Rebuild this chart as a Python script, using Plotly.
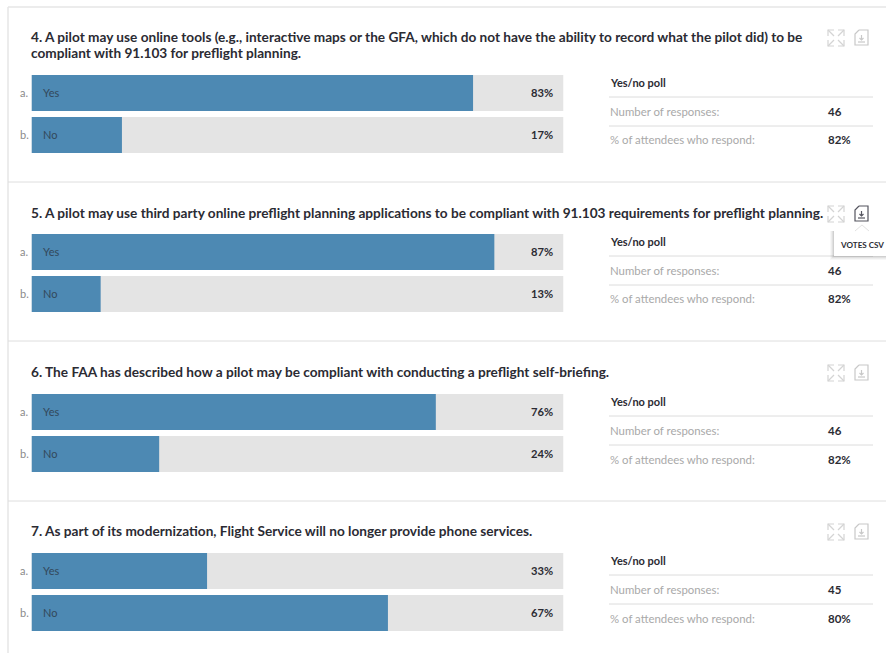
import plotly.graph_objects as go

W, H = 886, 653

# Poll results
questions = [
    ["4. A pilot may use online tools (e.g., interactive maps or the GFA, which do not have the ability to record what the pilot did) to be",
     "compliant with 91.103 for preflight planning."],
    ["5. A pilot may use third party online preflight planning applications to be compliant with 91.103 requirements for preflight planning."],
    ["6. The FAA has described how a pilot may be compliant with conducting a preflight self-briefing."],
    ["7. As part of its modernization, Flight Service will no longer provide phone services."],
]
choices = ["Yes", "No"]
choice_letters = ["a.", "b."]
yes_pct = [83, 87, 76, 33]
no_pct = [17, 13, 24, 67]
responses = [46, 46, 46, 45]
attendee_pct = [82, 82, 82, 80]

# Vertical layout of each card, in pixels from the top of the page
bar_tops = [72, 231, 391, 550]
title_ys = [37, 213, 372, 531]
stat_ys = [83, 242, 402, 561]
separators = [182, 341, 501]
BAR_BLOCK = 84
BAR_LEFT, BAR_RIGHT = 31.5, 563.5

BLUE = "#4d89b3"
TRACK = "#e4e4e4"
DARK = "#2b2b33"
GREY = "#a9a9a9"
RULE = "#dcdcdc"
FONT = "Lato"


def px(x):
    return x / W


def py(y):
    return 1 - y / H


fig = go.Figure()
annotations, shapes = [], []


def label(x, y, text, size=11, color=DARK, bold=False, anchor="left"):
    annotations.append(dict(
        x=px(x), y=py(y), xref="paper", yref="paper", xanchor=anchor, yanchor="middle",
        text=f"<b>{text}</b>" if bold else text, showarrow=False,
        font=dict(family=FONT, size=size, color=color), borderpad=0, borderwidth=0,
    ))


def rule(x0, y0, x1, y1, color=RULE, width=1):
    shapes.append(dict(type="line", xref="paper", yref="paper",
                       x0=px(x0), x1=px(x1), y0=py(y0), y1=py(y1),
                       line=dict(color=color, width=width)))


def icon_path(d_points, color, width=1.2):
    d = "M " + " L ".join(f"{px(x):.5f},{py(y):.5f}" for x, y in d_points)
    shapes.append(dict(type="path", xref="paper", yref="paper", path=d,
                       line=dict(color=color, width=width)))


def expand_icon(x, y, color):
    s = 16
    for cx, cy, dx, dy in [(x, y, 1, 1), (x + s, y, -1, 1), (x, y + s, 1, -1), (x + s, y + s, -1, -1)]:
        icon_path([(cx + dx * 6, cy), (cx, cy), (cx, cy + dy * 6)], color)
        icon_path([(cx, cy), (cx + dx * 6, cy + dy * 6)], color)


def doc_icon(x, y, color):
    icon_path([(x + 4, y), (x + 13, y), (x + 13, y + 15), (x, y + 15), (x, y + 4), (x + 4, y)], color)
    icon_path([(x + 6.5, y + 5), (x + 6.5, y + 10)], color)
    icon_path([(x + 4.5, y + 8), (x + 6.5, y + 10), (x + 8.5, y + 8)], color)
    icon_path([(x + 3, y + 12), (x + 10, y + 12)], color)


for i in range(4):
    n = "" if i == 0 else str(i + 1)
    top = bar_tops[i]
    xa, ya = f"x{n}", f"y{n}"
    values = [yes_pct[i], no_pct[i]]
    fig.add_trace(go.Bar(y=choices, x=[100, 100], orientation="h", marker=dict(color=TRACK, line_width=0),
                         xaxis=xa, yaxis=ya, hoverinfo="skip", showlegend=False))
    fig.add_trace(go.Bar(y=choices, x=values, orientation="h", marker=dict(color=BLUE, line_width=0),
                         xaxis=xa, yaxis=ya, showlegend=False))
    fig.layout[f"xaxis{n}"] = dict(domain=[px(BAR_LEFT), px(BAR_RIGHT)], range=[0, 100], visible=False,
                                   anchor=ya, fixedrange=True)
    fig.layout[f"yaxis{n}"] = dict(domain=[py(top + BAR_BLOCK), py(top)], autorange="reversed", visible=False,
                                   anchor=xa, type="category", fixedrange=True)

    for k, line in enumerate(questions[i]):
        label(31, title_ys[i] + 16 * k, line, size=13.65, bold=True)

    for k in range(2):
        yc = top + 20.5 + 42 * k
        label(20, yc, choice_letters[k], size=11, color="#8a8a8a")
        label(43, yc, choices[k], size=11, color="#33485a")
        label(552.5, yc, f"{values[k]}%", size=11.2, bold=True, anchor="right")

    sy = stat_ys[i]
    label(610, sy - 0.5, "Yes/no poll", size=11, bold=True)
    rule(609, sy + 14, 873, sy + 14)
    label(610, sy + 28.5, "Number of responses:", size=11.4, color=GREY)
    label(828, sy + 28.5, str(responses[i]), size=11.5, bold=True)
    rule(609, sy + 43, 873, sy + 43)
    label(610, sy + 57, "% of attendees who respond:", size=11.4, color=GREY)
    label(828, sy + 57, f"{attendee_pct[i]}%", size=11.5, bold=True)

    icon_y = title_ys[i] - 7 if i else 30
    expand_icon(828, icon_y, "#d4d4d4")
    doc_icon(855, icon_y, "#55555f" if i == 1 else "#c8c8c8")

# Card frame and dividers
rule(8, 7, 886, 7, color="#e6e6e6", width=1.5)
rule(8, 7, 8, 653, color="#e6e6e6", width=1.5)
for y in separators:
    rule(8, y, 886, y, color="#dedede", width=1)

# Download tooltip on the second card: soft shadow, box and pointer
for grow, alpha in [(4, 0.03), (3, 0.04), (2, 0.05), (1, 0.07)]:
    shapes.append(dict(type="rect", xref="paper", yref="paper", x0=px(834 - grow), x1=px(890),
                       y0=py(231), y1=py(256 + grow), fillcolor=f"rgba(0,0,0,{alpha})", line_width=0))
shapes.append(dict(type="rect", xref="paper", yref="paper", x0=px(834), x1=px(888), y0=py(231), y1=py(256),
                   fillcolor="white", line_width=0))
icon_path([(855, 231), (862, 225), (869, 231)], "#e2e2e2", width=1)
label(840, 245, "VOTES CSV", size=8.1, bold=True)

fig.update_layout(
    width=W, height=H, margin=dict(l=0, r=0, t=0, b=0), autosize=False,
    paper_bgcolor="white", plot_bgcolor="white", barmode="overlay", bargap=6 / 42,
    annotations=annotations, shapes=shapes,
    font=dict(family=FONT),
)

fig.write_html("out.html", config=dict(displayModeBar=False))
